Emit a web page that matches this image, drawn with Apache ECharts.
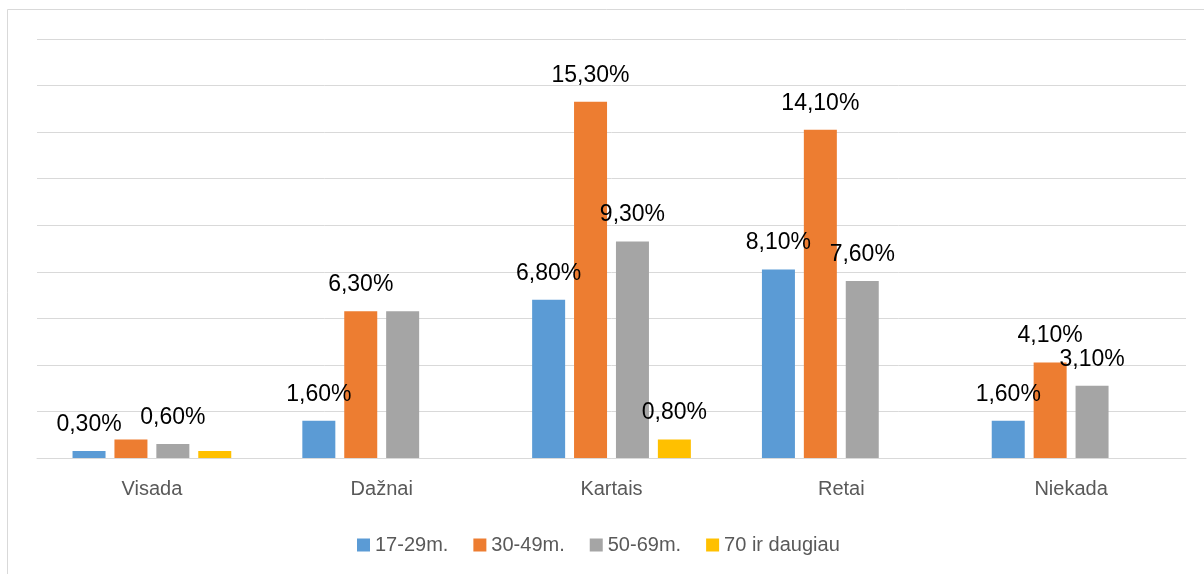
<!DOCTYPE html>
<html>
<head>
<meta charset="utf-8">
<script src="https://cdn.jsdelivr.net/npm/echarts@6/dist/echarts.min.js"></script>
<style>html,body{margin:0;padding:0;background:#fff;}#c{width:1204px;height:574px;}</style>
</head>
<body>
<div id="c"></div>
<script>
const categories = ['Visada', 'Dažnai', 'Kartais', 'Retai', 'Niekada'];
const seriesNames = ['17-29m.', '30-49m.', '50-69m.', '70 ir daugiau'];
const s17_29 = [0.3, 1.6, 6.8, 8.1, 1.6];
const s30_49 = [0.8, 6.3, 15.3, 14.1, 4.1];
const s50_69 = [0.6, 6.3, 9.3, 7.6, 3.1];
const s70plus = [0.3, null, 0.8, null, null];
// labels that are not shown in the reference: [seriesIndex, categoryIndex]
const hiddenLabels = [[1, 0], [3, 0], [2, 1]];

const colors = ['#5B9BD5', '#ED7D31', '#A5A5A5', '#FFC000'];
const allValues = [s17_29, s30_49, s50_69, s70plus];
const FONT = 'Liberation Sans';

function fmt(v) { return v.toFixed(2).replace('.', ',') + '%'; }

const series = allValues.map((vals, si) => ({
  name: seriesNames[si],
  type: 'bar',
  barWidth: 33,
  barGap: '27%',
  itemStyle: { color: colors[si] },
  label: {
    show: true, position: 'top', distance: 15,
    fontFamily: FONT, fontSize: 23, lineHeight: 23, color: '#000',
    formatter: p => fmt(p.value)
  },
  data: vals.map((v, ci) => {
    if (v === null) return null;
    const hide = hiddenLabels.some(h => h[0] === si && h[1] === ci);
    return hide ? { value: v, label: { show: false } } : v;
  })
}));

const chart = echarts.init(document.getElementById('c'), null, { renderer: 'canvas' });
chart.setOption({
  animation: false,
  backgroundColor: '#fff',
  color: colors,
  graphic: [{
    type: 'rect', shape: { x: 7.5, y: 9.5, width: 1400, height: 800 },
    style: { fill: 'none', stroke: '#d9d9d9', lineWidth: 1 }, silent: true, z: -1
  }],
  grid: { left: 37, right: 18, top: 39, bottom: 116 },
  legend: {
    left: 352, top: 530,
    itemWidth: 13, itemHeight: 13, itemGap: 25,
    icon: 'rect',
    textStyle: { fontFamily: FONT, fontSize: 20, color: '#595959' },
    data: seriesNames
  },
  xAxis: {
    type: 'category', data: categories,
    axisLine: { lineStyle: { color: '#d9d9d9', width: 1 } },
    axisTick: { show: false },
    axisLabel: { fontFamily: FONT, fontSize: 20, color: '#595959', margin: 21 }
  },
  yAxis: {
    type: 'value', min: 0, max: 18, interval: 2,
    axisLabel: { show: false }, axisLine: { show: false }, axisTick: { show: false },
    splitLine: { lineStyle: { color: '#d9d9d9', width: 1 } }
  },
  series: series
});
</script>
</body>
</html>
